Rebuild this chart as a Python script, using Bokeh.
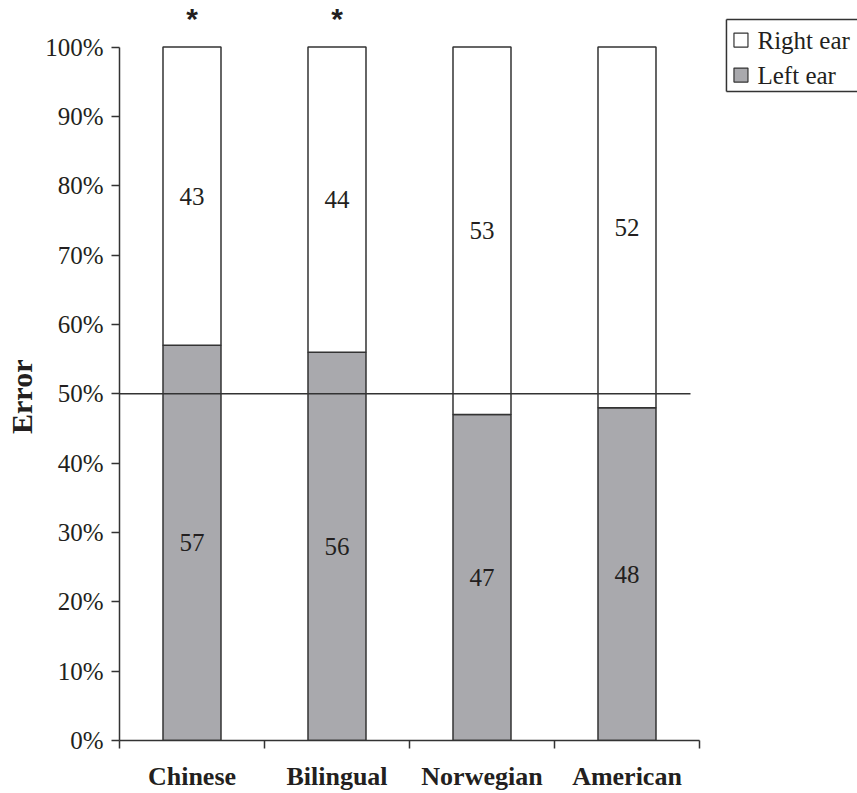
import math
from bokeh.plotting import figure
from bokeh.models import (ColumnDataSource, FixedTicker, Range1d, LinearAxis)
from bokeh.core.properties import value
from bokeh.embed import file_html
from bokeh.resources import INLINE

# ---- data ----
categories = ["Chinese", "Bilingual", "Norwegian", "American"]
left_ear = [57, 56, 47, 48]
right_ear = [43, 44, 53, 52]
significance = ["*", "*", "", ""]
y_ticks = [0, 10, 20, 30, 40, 50, 60, 70, 80, 90, 100]
y_tick_labels = [f"{t}%" for t in y_ticks]
series_names = ["Right ear", "Left ear"]
y_title = "Error"
reference_level = 50

SERIF = "Liberation Serif"
TXT = "#231f20"
LINE = "#333333"
GRAY = "#a9a9ad"

n = len(categories)
xc = [i + 0.5 for i in range(n)]
lf = [v / 100 for v in left_ear]
rf = [v / 100 for v in right_ear]

p = figure(width=857, height=793, output_backend="svg", toolbar_location=None,
           x_range=Range1d(0, 5.0897), y_range=Range1d(0, 1.0671),
           x_axis_type=None, y_axis_type=None,
           min_border_left=119, min_border_right=0, min_border_top=0,
           min_border_bottom=53)
p.outline_line_color = None
p.xgrid.visible = False
p.ygrid.visible = False
p.background_fill_color = "white"
p.border_fill_color = "white"

# y axis
yax = LinearAxis(bounds=(0, 1))
yax.ticker = FixedTicker(ticks=[t / 100 for t in y_ticks], minor_ticks=[])
yax.major_label_overrides = {t / 100: lab for t, lab in zip(y_ticks, y_tick_labels)}
yax.major_label_text_font = SERIF
yax.major_label_text_font_size = "25px"
yax.major_label_text_color = TXT
yax.major_label_standoff = 8
yax.major_tick_out = 8
yax.major_tick_in = 0
yax.minor_tick_out = 0
yax.minor_tick_in = 0
yax.axis_line_color = LINE
yax.axis_line_width = 1.5
yax.major_tick_line_color = LINE
yax.major_tick_line_width = 1.5
# trailing no-break spaces shift the centred title down to the 0-100% span centre
yax.axis_label = y_title + "\u00a0" * 7
yax.axis_label_text_font = SERIF
yax.axis_label_text_font_style = "bold"
yax.axis_label_text_font_size = "30px"
yax.axis_label_text_color = TXT
yax.axis_label_standoff = 4
p.add_layout(yax, "left")

# x axis
xax = LinearAxis(bounds=(0, n))
xax.ticker = FixedTicker(ticks=xc, minor_ticks=list(range(n + 1)))
xax.major_label_overrides = {x: c for x, c in zip(xc, categories)}
xax.major_label_text_font = SERIF
xax.major_label_text_font_style = "bold"
xax.major_label_text_font_size = "26px"
xax.major_label_text_color = TXT
xax.major_label_standoff = 13
xax.major_tick_out = 0
xax.major_tick_in = 0
xax.minor_tick_out = 8
xax.minor_tick_in = 0
xax.minor_tick_line_color = LINE
xax.minor_tick_line_width = 1.5
xax.axis_line_color = LINE
xax.axis_line_width = 1.5
p.add_layout(xax, "below")

# bars
src = ColumnDataSource(dict(x=xc, left=lf, right_top=[a + b for a, b in zip(lf, rf)],
                            lab_l=[str(v) for v in left_ear], lab_r=[str(v) for v in right_ear],
                            yl=[v / 2 for v in lf], yr=[a + b / 2 for a, b in zip(lf, rf)],
                            sig=significance))
p.vbar(x="x", bottom=0, top="left", width=0.4, source=src, fill_color=GRAY,
       line_color=LINE, line_width=1.5)
p.vbar(x="x", bottom="left", top="right_top", width=0.4, source=src, fill_color="white",
       line_color=LINE, line_width=1.5)

# 50% reference line
p.segment(x0=[0], y0=[reference_level / 100], x1=[3.938], y1=[reference_level / 100],
          line_color=LINE, line_width=1.5)

# value labels
for col, ycol in (("lab_l", "yl"), ("lab_r", "yr")):
    p.text(x="x", y=ycol, text=col, source=src, text_font=value(SERIF),
           text_font_size="25px", text_align="center", text_baseline="middle",
           text_color=TXT)

# significance asterisks
p.text(x="x", y=1.0407, text="sig", source=src, text_font=value("Liberation Sans"),
       text_font_style="bold", text_font_size="30px", text_align="center",
       text_baseline="middle", text_color=TXT)

# legend (manual, right edge runs off the canvas)
p.segment(x0=[4.186, 4.186, 4.186], y0=[0.9358, 1.0397, 0.9358],
          x1=[4.186, 5.3, 5.3], y1=[1.0397, 1.0397, 0.9358],
          line_color=LINE, line_width=1.5)
leg_y = [1.0101, 0.9596]
p.scatter(x=[4.286, 4.286], y=leg_y, marker="square", size=14,
          fill_color=["white", GRAY], line_color=LINE, line_width=1.2)
p.text(x=[4.40, 4.40], y=leg_y, text=series_names, text_font=value(SERIF),
       text_font_size="25px", text_align="left", text_baseline="middle",
       text_color=TXT)

open("out.html", "w").write(file_html(p, INLINE))
